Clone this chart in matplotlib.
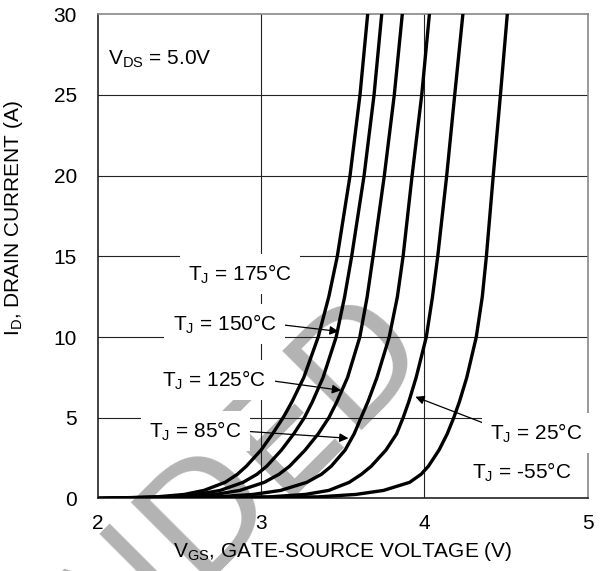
import matplotlib
matplotlib.use("Agg")
import matplotlib.pyplot as plt

# =========================
# DATA
# =========================

# drain current levels (A), shared by all curves
id_levels = [0.0, 0.1, 0.25, 0.5, 1, 1.5, 2, 3, 4, 5, 6, 7.5, 10, 12.5, 15, 20, 25, 30]

# gate-source voltage (V) at each current level, per junction temperature
vgs_175 = [2.00, 2.36, 2.53, 2.65, 2.78, 2.855, 2.91, 3.00, 3.07, 3.135, 3.19, 3.262,
           3.35, 3.415, 3.467, 3.545, 3.606, 3.653]
vgs_150 = [2.00, 2.42, 2.61, 2.75, 2.89, 2.975, 3.035, 3.125, 3.20, 3.265, 3.315, 3.38,
           3.46, 3.512, 3.555, 3.631, 3.692, 3.739]
vgs_125 = [2.00, 2.52, 2.72, 2.87, 3.02, 3.11, 3.175, 3.27, 3.35, 3.415, 3.465, 3.53,
           3.605, 3.65, 3.686, 3.755, 3.816, 3.865]
vgs_85 = [2.00, 2.72, 2.95, 3.12, 3.28, 3.37, 3.43, 3.515, 3.57, 3.612, 3.655, 3.71,
          3.785, 3.835, 3.87, 3.925, 3.984, 4.031]
vgs_25 = [2.00, 3.05, 3.27, 3.415, 3.54, 3.615, 3.675, 3.765, 3.83, 3.87, 3.905, 3.95,
          4.012, 4.05, 4.082, 4.137, 4.186, 4.236]
vgs_m55 = [2.00, 3.35, 3.58, 3.75, 3.91, 3.98, 4.025, 4.09, 4.14, 4.18, 4.215, 4.26,
           4.318, 4.355, 4.38, 4.422, 4.466, 4.508]

curves = [vgs_175, vgs_150, vgs_125, vgs_85, vgs_25, vgs_m55]

x_ticks = [2, 3, 4, 5]
y_ticks = [0, 5, 10, 15, 20, 25, 30]

# =========================
# PLOT
# =========================

plt.rcParams["font.family"] = ["Liberation Sans", "DejaVu Sans"]
plt.rcParams["mathtext.fontset"] = "custom"
plt.rcParams["mathtext.rm"] = "Liberation Sans"

fig = plt.figure(figsize=(6.04, 5.71), dpi=100)
ax = fig.add_axes([0.1618, 0.127, 0.8111, 0.848])
ax.set_facecolor("none")

# watermark behind everything
fig.text(0.402, 0.170, "NDED", fontsize=110, color="#b3b3b3", rotation=45,
         rotation_mode="anchor", ha="center", va="center", zorder=-5,
         family="DejaVu Sans")

for x in [3, 4]:
    ax.axvline(x, color="#222222", lw=0.8, zorder=1)
for y in [5, 10, 15, 20, 25]:
    ax.axhline(y, color="#222222", lw=0.8, zorder=1)

for v in curves:
    ax.plot(v, id_levels, color="black", lw=2.4, zorder=3, solid_joinstyle="round")

ax.set_xlim(2, 5)
ax.set_ylim(0, 30)
ax.set_xticks(x_ticks)
ax.set_yticks(y_ticks)
ax.tick_params(length=0, labelsize=15)
ax.tick_params(axis="y", pad=15)
ax.tick_params(axis="x", pad=11)

for side in ["top", "right"]:
    ax.spines[side].set_color("#888888")
for side in ["left", "bottom"]:
    ax.spines[side].set_color("#222222")
for s in ax.spines.values():
    s.set_linewidth(1.2)

ax.set_xlabel(r"V$_\mathregular{GS}$, GATE-SOURCE VOLTAGE (V)", fontsize=15, labelpad=5)
ax.set_ylabel(r"I$_\mathregular{D}$, DRAIN CURRENT (A)", fontsize=15)
ax.yaxis.set_label_coords(-0.148, 0.579)

box = dict(boxstyle="square,pad=0.4", fc="white", ec="none")
arrow = dict(arrowstyle="-|>", color="black", lw=0.9, mutation_scale=13,
             shrinkA=0, shrinkB=0)

ax.text(2.06, 27.2, r"V$_\mathregular{DS}$ = 5.0V", fontsize=15, va="center", zorder=4)
ax.text(2.553, 13.9, r"T$_\mathregular{J}$ = 175°C", fontsize=15, va="center", bbox=box, zorder=4)
ax.annotate(r"T$_\mathregular{J}$ = 150°C", xy=(3.475, 10.35), xytext=(2.458, 10.8),
            fontsize=15, va="center", bbox=box, zorder=4,
            arrowprops=dict(arrow, relpos=(1, 0.5)))
ax.annotate(r"T$_\mathregular{J}$ = 125°C", xy=(3.49, 6.7), xytext=(2.396, 7.34),
            fontsize=15, va="center", bbox=box, zorder=4,
            arrowprops=dict(arrow, relpos=(1, 0.5)))
ax.annotate(r"T$_\mathregular{J}$ = 85°C", xy=(3.535, 3.73), xytext=(2.317, 4.18),
            fontsize=15, va="center", bbox=box, zorder=4,
            arrowprops=dict(arrow, relpos=(1, 0.5)))
ax.annotate(r"T$_\mathregular{J}$ = 25°C", xy=(3.945, 6.3), xytext=(4.405, 4.07),
            fontsize=15, va="center", bbox=box, zorder=4,
            arrowprops=dict(arrow, relpos=(0, 0.8)))
ax.text(4.291, 1.65, r"T$_\mathregular{J}$ = -55°C", fontsize=15, va="center", bbox=box, zorder=4)

fig.savefig("out.png", dpi=100)
